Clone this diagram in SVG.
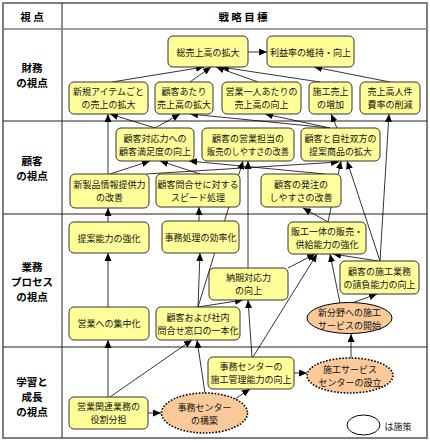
<svg xmlns="http://www.w3.org/2000/svg" width="430" height="443" viewBox="0 0 430 443">
<defs>
<marker id="ah" markerUnits="userSpaceOnUse" markerWidth="8" markerHeight="7" refX="8" refY="3.5" orient="auto">
<path d="M0,0 L8,3.5 L0,7 z" fill="#000"/>
</marker>
<style>
.frame{fill:#fff;stroke:#808080;stroke-width:2}
.grid{stroke:#222;stroke-width:1;fill:none}
.hd{font-family:"Noto Sans CJK JP","Noto Sans",sans-serif;font-size:10.5px;font-weight:bold;fill:#000;text-anchor:middle;dominant-baseline:central}
.nb rect{fill:#ffff99;stroke:#333;stroke-width:1}
.el ellipse{fill:#fcc99a;stroke:#000;stroke-width:1}
.el.dot ellipse{stroke-width:1.6;stroke-dasharray:1.6 1.6}
text.t{font-family:"Noto Sans CJK JP","Noto Sans",sans-serif;font-size:9px;fill:#111;text-anchor:middle;dominant-baseline:central}
.cn line{stroke:#000;stroke-width:0.8;marker-end:url(#ah)}
</style>
</defs>
<rect class="frame" x="3" y="3" width="424" height="435"/>
<g id="grid">
<line class="grid" x1="62" y1="3" x2="62" y2="438"/>
<line x1="3" y1="29" x2="427" y2="29" stroke="#808080" stroke-width="1.5"/>
<line class="grid" x1="3" y1="121" x2="427" y2="121"/>
<line class="grid" x1="3" y1="214" x2="427" y2="214"/>
<line class="grid" x1="3" y1="347" x2="427" y2="347"/>
</g>
<g id="headers">
<text class="hd" x="32" y="16">視 点</text>
<text class="hd" x="243" y="16">戦 略 目 標</text>
<text class="hd" x="32" y="67">財務</text>
<text class="hd" x="32" y="82">の視点</text>
<text class="hd" x="32" y="160">顧客</text>
<text class="hd" x="32" y="175">の視点</text>
<text class="hd" x="32" y="266">業務</text>
<text class="hd" x="32" y="281">プロセス</text>
<text class="hd" x="32" y="296">の視点</text>
<text class="hd" x="32" y="381">学習と</text>
<text class="hd" x="32" y="396">成長</text>
<text class="hd" x="32" y="411">の視点</text>
</g>
<g id="connectors" class="cn">
<line x1="248" y1="52" x2="267" y2="52"/>
<line x1="390" y1="82" x2="314" y2="67"/>
<line x1="112" y1="82" x2="204" y2="67"/>
<line x1="190" y1="82" x2="211" y2="67"/>
<line x1="258" y1="82" x2="216" y2="67"/>
<line x1="320" y1="82" x2="221" y2="67"/>
<line x1="108" y1="174" x2="108" y2="114"/>
<line x1="155" y1="128" x2="110" y2="114"/>
<line x1="155" y1="128" x2="180" y2="114"/>
<line x1="330" y1="128" x2="190" y2="114"/>
<line x1="330" y1="128" x2="265" y2="114"/>
<line x1="337" y1="128" x2="331" y2="114"/>
<line x1="380" y1="261" x2="389" y2="114"/>
<line x1="380" y1="261" x2="347" y2="161"/>
<line x1="110" y1="174" x2="150" y2="161"/>
<line x1="200" y1="174" x2="160" y2="161"/>
<line x1="146" y1="174" x2="339" y2="162"/>
<line x1="325" y1="174" x2="189" y2="161"/>
<line x1="328" y1="222" x2="303" y2="208"/>
<line x1="328" y1="222" x2="341" y2="161"/>
<line x1="108" y1="222" x2="108" y2="208"/>
<line x1="199" y1="221" x2="199" y2="207"/>
<line x1="248" y1="268" x2="248" y2="161"/>
<line x1="198" y1="307" x2="243" y2="161"/>
<line x1="198" y1="307" x2="200" y2="253"/>
<line x1="198" y1="307" x2="243" y2="300"/>
<line x1="288" y1="268" x2="315" y2="254"/>
<line x1="253" y1="357" x2="317" y2="254"/>
<line x1="340" y1="303" x2="330" y2="254"/>
<line x1="378" y1="261" x2="333" y2="254"/>
<line x1="352" y1="303" x2="377" y2="294"/>
<line x1="351" y1="358" x2="351" y2="334"/>
<line x1="294" y1="373" x2="307" y2="373"/>
<line x1="252" y1="357" x2="248" y2="300"/>
<line x1="235" y1="399" x2="250" y2="389"/>
<line x1="205" y1="393" x2="197" y2="340"/>
<line x1="110" y1="397" x2="192" y2="340"/>
<line x1="148" y1="413" x2="161" y2="413"/>
<line x1="108" y1="397" x2="108" y2="340"/>
<line x1="108" y1="307" x2="108" y2="253"/>
</g>
<g id="n_sou" class="nb"><rect x="168" y="36" width="80" height="31" rx="5"/><text class="t" x="208" y="52">総売上高の拡大</text></g>
<g id="n_rieki" class="nb"><rect x="267" y="36" width="87" height="31" rx="5"/><text class="t" x="310.5" y="52">利益率の維持・向上</text></g>
<g id="n_shinki" class="nb"><rect x="69" y="82" width="79" height="32" rx="5"/><text class="t" x="108.5" y="91">新規アイテムごと</text><text class="t" x="108.5" y="104">の売上の拡大</text></g>
<g id="n_atari" class="nb"><rect x="155" y="82" width="58" height="32" rx="5"/><text class="t" x="184" y="91">顧客あたり</text><text class="t" x="184" y="104">売上高の拡大</text></g>
<g id="n_hitori" class="nb"><rect x="222" y="82" width="79" height="32" rx="5"/><text class="t" x="261.5" y="91">営業一人あたりの</text><text class="t" x="261.5" y="104">売上高の向上</text></g>
<g id="n_sekouri" class="nb"><rect x="309" y="82" width="43" height="32" rx="5"/><text class="t" x="330.5" y="91">施工売上</text><text class="t" x="330.5" y="104">の増加</text></g>
<g id="n_jinken" class="nb"><rect x="360" y="82" width="60" height="32" rx="5"/><text class="t" x="390" y="91">売上高人件</text><text class="t" x="390" y="104">費率の削減</text></g>
<g id="n_taio" class="nb"><rect x="116" y="128" width="78" height="33" rx="5"/><text class="t" x="155" y="138">顧客対応力への</text><text class="t" x="155" y="151">顧客満足度の向上</text></g>
<g id="n_tanto" class="nb"><rect x="202" y="128" width="92" height="33" rx="5"/><text class="t" x="248" y="138">顧客の営業担当の</text><text class="t" x="248" y="151" textLength="82" lengthAdjust="spacingAndGlyphs">販売のしやすさの改善</text></g>
<g id="n_teian" class="nb"><rect x="301" y="128" width="79" height="33" rx="5"/><text class="t" x="340.5" y="138">顧客と自社双方の</text><text class="t" x="340.5" y="151">提案商品の拡大</text></g>
<g id="n_shinseihin" class="nb"><rect x="70" y="174" width="79" height="34" rx="5"/><text class="t" x="109.5" y="184">新製品情報提供力</text><text class="t" x="109.5" y="197">の改善</text></g>
<g id="n_speed" class="nb"><rect x="156" y="174" width="84" height="33" rx="5"/><text class="t" x="198" y="184">顧客問合せに対する</text><text class="t" x="198" y="197">スピード処理</text></g>
<g id="n_hacchu" class="nb"><rect x="261" y="174" width="80" height="33" rx="5"/><text class="t" x="301" y="184">顧客の発注の</text><text class="t" x="301" y="197">しやすさの改善</text></g>
<g id="n_teiannoryoku" class="nb"><rect x="69" y="222" width="80" height="31" rx="5"/><text class="t" x="109" y="238">提案能力の強化</text></g>
<g id="n_jimu" class="nb"><rect x="162" y="221" width="77" height="32" rx="5"/><text class="t" x="200.5" y="237">事務処理の効率化</text></g>
<g id="n_hanko" class="nb"><rect x="288" y="222" width="78" height="32" rx="5"/><text class="t" x="327" y="231">販工一体の販売・</text><text class="t" x="327" y="244">供給能力の強化</text></g>
<g id="n_noki" class="nb"><rect x="209" y="268" width="79" height="32" rx="5"/><text class="t" x="248.5" y="277">納期対応力</text><text class="t" x="248.5" y="290">の向上</text></g>
<g id="n_ukeoi" class="nb"><rect x="340" y="261" width="79" height="33" rx="5"/><text class="t" x="379.5" y="271">顧客の施工業務</text><text class="t" x="379.5" y="284">の請負能力の向上</text></g>
<g id="n_shinbunya" class="el"><ellipse cx="349.5" cy="318" rx="42.5" ry="15.5"/><text class="t" x="349.5" y="312">新分野への施工</text><text class="t" x="349.5" y="325">サービスの開始</text></g>
<g id="n_shuchu" class="nb"><rect x="69" y="307" width="80" height="33" rx="5"/><text class="t" x="109" y="323.5">営業への集中化</text></g>
<g id="n_ippon" class="nb"><rect x="156" y="307" width="84" height="33" rx="5"/><text class="t" x="198" y="317">顧客および社内</text><text class="t" x="198" y="330">問合せ窓口の一本化</text></g>
<g id="n_buntan" class="nb"><rect x="69" y="397" width="79" height="32" rx="5"/><text class="t" x="108.5" y="406">営業関連業務の</text><text class="t" x="108.5" y="419">役割分担</text></g>
<g id="n_center" class="el dot"><ellipse cx="204.5" cy="413" rx="43" ry="20"/><text class="t" x="204.5" y="407">事務センター</text><text class="t" x="204.5" y="420">の構築</text></g>
<g id="n_kanri" class="nb"><rect x="208" y="357" width="86" height="32" rx="5"/><text class="t" x="251" y="366">事務センターの</text><text class="t" x="251" y="379">施工管理能力の向上</text></g>
<g id="n_sekocenter" class="el dot"><ellipse cx="350" cy="375.5" rx="43" ry="17.5"/><text class="t" x="350" y="369">施工サービス</text><text class="t" x="350" y="382">センターの設立</text></g>
<g id="legend"><ellipse cx="363.5" cy="425" rx="16.5" ry="10" fill="#fff" stroke="#000" stroke-width="1"/><text class="t" x="398" y="426">は施策</text></g>
</svg>
